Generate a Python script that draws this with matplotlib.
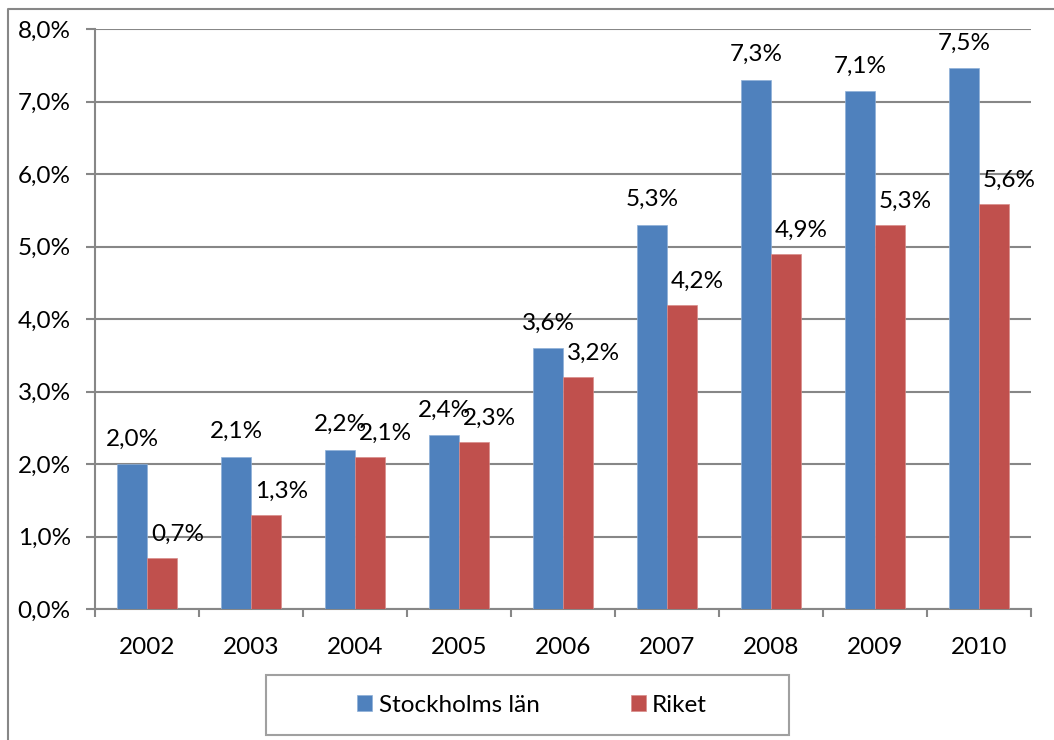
import numpy as np
import matplotlib
matplotlib.use('Agg')
import matplotlib.pyplot as plt
from matplotlib.lines import Line2D
from matplotlib.patches import Rectangle
from matplotlib.ticker import FixedLocator, FuncFormatter

years = ['2002', '2003', '2004', '2005', '2006', '2007', '2008', '2009', '2010']
stockholm = [2.0, 2.1, 2.2, 2.4, 3.6, 5.3, 7.3, 7.14, 7.46]
riket = [0.7, 1.3, 2.1, 2.3, 3.2, 4.2, 4.9, 5.3, 5.59]
series_names = ['Stockholms län', 'Riket']
colors = ['#4F81BD', '#C0504D']

plt.rcParams['font.family'] = ['Lato', 'DejaVu Sans']
fs = 17.5
grid_col = '#878787'

fig = plt.figure(figsize=(10.54, 7.40), dpi=100)
ax = fig.add_axes([95/1054, 1-609/740, (1031-95)/1054, (609-29)/740])

x = np.arange(len(years))
w = 30/104
b1 = ax.bar(x - w/2, stockholm, w, color=colors[0], edgecolor='#8FB0D8', linewidth=0.5, zorder=3)
b2 = ax.bar(x + w/2, riket, w, color=colors[1], edgecolor='#D88C8A', linewidth=0.5, zorder=3)

def pct(v):
    return f'{v:.1f}%'.replace('.', ',')

for xi, v in zip(x, stockholm):
    ax.annotate(pct(v), (xi - w/2, v), xytext=(0, 18), textcoords='offset points',
                ha='center', va='center', fontsize=fs)
for xi, v in zip(x, riket):
    ax.annotate(pct(v), (xi + w/2, v), xytext=(11, 17), textcoords='offset points',
                ha='center', va='center', fontsize=fs)

ax.set_xlim(-0.5, len(years) - 0.5)
ax.set_ylim(0, 8)
ax.set_yticks(np.arange(0, 9, 1))
ax.yaxis.set_major_formatter(FuncFormatter(lambda v, p: f'{v:.1f}%'.replace('.', ',')))
ax.yaxis.grid(True, color=grid_col, linewidth=1.5, zorder=0)
ax.set_axisbelow(True)
ax.tick_params(axis='y', length=6.5, width=1.5, color=grid_col, pad=11, labelsize=fs)

ax.set_xticks(x)
ax.set_xticklabels(years)
ax.xaxis.set_minor_locator(FixedLocator(np.arange(-0.5, len(years), 1)))
ax.tick_params(axis='x', which='major', length=0, pad=20, labelsize=fs)
ax.tick_params(axis='x', which='minor', length=6, width=1.5, color=grid_col)

for s in ['top', 'right']:
    ax.spines[s].set_visible(False)
for s in ['left', 'bottom']:
    ax.spines[s].set_color(grid_col)
    ax.spines[s].set_linewidth(1.5)

# outer chart frame (only left and top visible)
fig.add_artist(Line2D([8/1054, 8/1054, 1.0], [0, 1-9/740, 1-9/740],
                      transform=fig.transFigure, color=grid_col, linewidth=1.5))

# legend box
fig.add_artist(Rectangle((266/1054, 1-735/740), (789-266)/1054, 60/740,
                         transform=fig.transFigure, facecolor='white',
                         edgecolor='#A0A0A0', linewidth=1.5))
leg = fig.legend([b1, b2], series_names, loc='center', ncol=2,
                 bbox_to_anchor=(532/1054, 1-705/740), frameon=False, fontsize=fs,
                 handlelength=0.62, handleheight=0.62, handletextpad=0.25,
                 columnspacing=3.75)

fig.savefig('out.png', dpi=100)
